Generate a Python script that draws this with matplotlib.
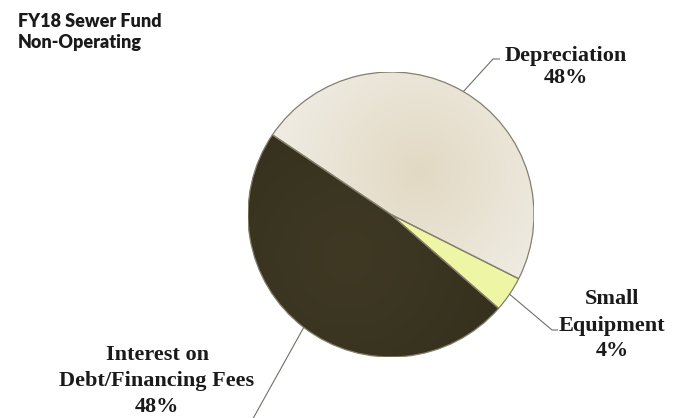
import numpy as np
import matplotlib
matplotlib.use('Agg')
import matplotlib.pyplot as plt
from matplotlib.colors import LinearSegmentedColormap
from matplotlib.patches import Wedge

# FY18 sewer fund, non-operating expenses (percent of total)
categories = ['Depreciation', 'Small Equipment', 'Interest on Debt/Financing Fees']
label_lines = [['Depreciation'], ['Small', 'Equipment'], ['Interest on', 'Debt/Financing Fees']]
shares = [48, 4, 48]

colors = ['#ebe5d6', '#eef5a4', '#3a3421']
edge_color = '#857f6c'
line_color = '#707068'
title_lines = ['FY18 Sewer Fund', 'Non-Operating']

W, H = 682, 418
fig = plt.figure(figsize=(W / 100, H / 100), dpi=100)
fig.patch.set_facecolor('white')

# pie sits in its own axes, overlay axes in pixel units for labels
ax = fig.add_axes([248 / W, 61 / H, 286 / W, 285 / H])
ov = fig.add_axes([0, 0, 1, 1], zorder=5)
ov.set_xlim(0, W)
ov.set_ylim(H, 0)
ov.axis('off')
ov.patch.set_alpha(0)

wedges, _ = ax.pie(shares, colors=colors, startangle=146, counterclock=False,
                   radius=1, wedgeprops=dict(linewidth=0))

# soft radial shading on the two large slices
def shade(wedge, c_in, c_out, cx, cy, spread):
    yy, xx = np.mgrid[-1:1:300j, -1:1:300j]
    d = np.clip(np.hypot(xx - cx, yy - cy) / spread, 0, 1)
    cmap = LinearSegmentedColormap.from_list('s', [c_in, c_out])
    im = ax.imshow(d, extent=[-1, 1, -1, 1], origin='lower', cmap=cmap,
                   vmin=0, vmax=1, zorder=1.5, interpolation='bilinear')
    im.set_clip_path(wedge)

shade(wedges[0], '#e2d9c3', '#efebe2', 0.2, 0.3, 1.0)
shade(wedges[2], '#3f3924', '#36311e', -0.3, -0.3, 1.1)

for w in wedges:
    ax.add_patch(Wedge(w.center, w.r, w.theta1, w.theta2, fill=False,
                       ec=edge_color, lw=0.9, zorder=3))

ax.set_xlim(-1, 1)
ax.set_ylim(-1, 1)
ax.set_aspect('auto')
ax.axis('off')

# leader lines: start on the rim at each slice's mid angle
to_px = ax.transData + ov.transData.inverted()
knees = [(493, 59, 500), (552, 330, 558), (250, 424, 244)]
for w, (kx, ky, ex) in zip(wedges, knees):
    mid = np.deg2rad((w.theta1 + w.theta2) / 2)
    sx, sy = to_px.transform((np.cos(mid), np.sin(mid)))
    ov.plot([sx, kx, ex], [sy, ky, ky], color=line_color, lw=0.8,
            solid_capstyle='butt')

# slice labels with their shares
label_pos = [(566, [61, 83]), (612, [304, 331, 356]), (157, [360, 386, 412])]
lab_font = dict(family='Liberation Serif', weight='bold', size=16, color='#1a1a1a')
for lines, share, (cx, baselines) in zip(label_lines, shares, label_pos):
    for txt, by in zip(lines + [f'{share}%'], baselines):
        ov.text(cx, by, txt, ha='center', va='baseline', **lab_font)

for txt, by in zip(title_lines, [27, 48]):
    ov.text(18, by, txt, ha='left', va='baseline', family='Lato',
            weight='heavy', size=13, color='#1a1a1a')

fig.savefig('out.png', dpi=100, facecolor='white')
